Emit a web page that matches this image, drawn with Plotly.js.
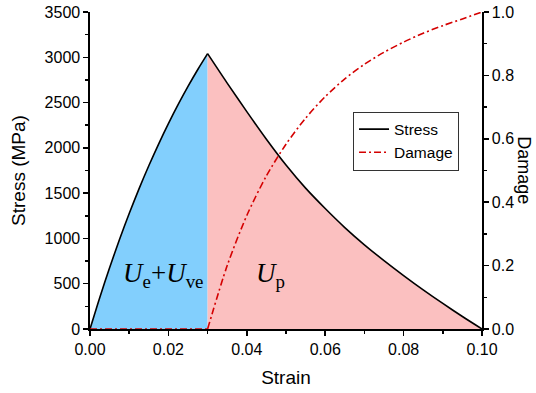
<!DOCTYPE html>
<html>
<head>
<meta charset="utf-8">
<script src="https://cdn.plot.ly/plotly-3.0.1.min.js"></script>
<style>html,body{margin:0;padding:0;background:#fff;}#chart{width:536px;height:393px;}</style>
</head>
<body>
<div id="chart"></div>
<script>
// Loading (elastic) branch
var strainRise = [0, 0.0025, 0.005, 0.0075, 0.01, 0.0125, 0.015, 0.0175, 0.02, 0.0225, 0.025, 0.0275, 0.03];
var stressRise = [0, 349, 677, 985, 1275, 1547, 1802, 2042, 2267, 2479, 2678, 2865, 3040];
// Softening branch
var strainSoft = [0.03, 0.035, 0.04, 0.045, 0.05, 0.055, 0.06, 0.065, 0.07, 0.075, 0.08, 0.085, 0.09, 0.095, 0.1];
var stressSoft = [3040, 2715, 2400, 2095, 1810, 1555, 1330, 1120, 930, 755, 590, 432, 282, 138, 0];
// Damage
var strainDamageFlat = [0, 0.03];
var damageFlat = [0, 0];
var damageSoft = [0, 0.2, 0.358, 0.483, 0.583, 0.665, 0.733, 0.789, 0.835, 0.873, 0.905, 0.933, 0.957, 0.978, 1.0];

var xTicks = [0, 0.02, 0.04, 0.06, 0.08, 0.1];
var yTicks = [0, 500, 1000, 1500, 2000, 2500, 3000, 3500];
var y2Ticks = [0, 0.2, 0.4, 0.6, 0.8, 1.0];

var blue = 'rgb(130,207,253)';
var pink = 'rgb(251,192,192)';
var red = 'rgb(212,0,0)';
var sans = 'Liberation Sans, Arial, Helvetica, sans-serif';
var tickFont = {family: sans, size: 16, color: '#000'};
var titleFont = {family: sans, size: 19, color: '#000'};

var traces = [
  {x: strainRise, y: stressRise, type: 'scatter', mode: 'lines', fill: 'tozeroy', fillcolor: blue,
   line: {width: 0, shape: 'spline', smoothing: 0.8}, showlegend: false, hoverinfo: 'skip'},
  {x: strainSoft, y: stressSoft, type: 'scatter', mode: 'lines', fill: 'tozeroy', fillcolor: pink,
   line: {width: 0, shape: 'spline', smoothing: 0.8}, showlegend: false, hoverinfo: 'skip'},
  {x: strainRise, y: stressRise, type: 'scatter', mode: 'lines', name: 'Stress', legendgroup: 's',
   line: {color: '#000', width: 1.6, shape: 'spline', smoothing: 0.8}, showlegend: true},
  {x: strainSoft, y: stressSoft, type: 'scatter', mode: 'lines', name: 'Stress', legendgroup: 's',
   line: {color: '#000', width: 1.6, shape: 'spline', smoothing: 0.8}, showlegend: false},
  {x: strainDamageFlat, y: damageFlat, type: 'scatter', mode: 'lines', name: 'Damage', legendgroup: 'd', yaxis: 'y2',
   line: {color: red, width: 1.6, dash: '7px,3px,2px,3px'}, showlegend: true},
  {x: strainSoft, y: damageSoft, type: 'scatter', mode: 'lines', name: 'Damage', legendgroup: 'd', yaxis: 'y2',
   line: {color: red, width: 1.6, dash: '7px,3px,2px,3px', shape: 'spline', smoothing: 0.8}, showlegend: false}
];

var layout = {
  width: 536, height: 393,
  margin: {l: 90, r: 54, t: 12, b: 64, pad: 0},
  paper_bgcolor: '#fff', plot_bgcolor: '#fff',
  showlegend: true,
  legend: {x: 0.671, y: 0.686, xanchor: 'left', yanchor: 'top', bgcolor: '#fff',
           bordercolor: '#333', borderwidth: 1, font: {family: sans, size: 15.5, color: '#000'},
           tracegroupgap: 0, itemwidth: 30},
  xaxis: {
    range: [0, 0.1], tickvals: xTicks, tickformat: '.2f', ticks: 'outside', ticklen: 5, tickwidth: 1.5,
    tickcolor: '#000', showline: true, linecolor: '#000', linewidth: 1.6, showgrid: false, zeroline: false,
    tickfont: tickFont, layer: 'below traces',
    minor: {ticks: 'outside', ticklen: 3, tickwidth: 1.5, tickcolor: '#000', dtick: 0.01, showgrid: false},
    title: {text: 'Strain', font: titleFont, standoff: 14}
  },
  yaxis: {
    range: [0, 3500], tickvals: yTicks, ticks: 'outside', ticklen: 5, tickwidth: 1.5,
    tickcolor: '#000', showline: true, linecolor: '#000', linewidth: 1.6, showgrid: false, zeroline: false,
    tickfont: tickFont, layer: 'below traces',
    minor: {ticks: 'outside', ticklen: 3, tickwidth: 1.5, tickcolor: '#000', dtick: 250, showgrid: false},
    title: {text: 'Stress (MPa)', font: titleFont, standoff: 14}
  },
  yaxis2: {
    range: [0, 1], tickvals: y2Ticks, tickformat: '.1f', overlaying: 'y', side: 'right', ticks: 'outside', ticklen: 5, tickwidth: 1.5,
    tickcolor: '#000', showline: true, linecolor: '#000', linewidth: 1.6, showgrid: false, zeroline: false,
    tickfont: tickFont,
    minor: {ticks: 'outside', ticklen: 3, tickwidth: 1.5, tickcolor: '#000', dtick: 0.1, showgrid: false}
  },
  annotations: [
    {xref: 'paper', yref: 'paper', x: 1.108, y: 0.5, text: 'Damage', showarrow: false, textangle: 90,
     font: {family: sans, size: 18, color: '#000'}, xanchor: 'center', yanchor: 'middle'},
    {xref: 'x', yref: 'y', x: 0.0187, y: 600, text: '<i>U</i><sub>e</sub>+<i>U</i><sub>ve</sub>', showarrow: false,
     font: {family: 'Liberation Serif, Times New Roman, serif', size: 27, color: '#000'}},
    {xref: 'x', yref: 'y', x: 0.046, y: 600, text: '<i>U</i><sub>p</sub>', showarrow: false,
     font: {family: 'Liberation Serif, Times New Roman, serif', size: 27, color: '#000'}}
  ]
};

Plotly.newPlot('chart', traces, layout, {displayModeBar: false, staticPlot: true});
</script>
</body>
</html>
